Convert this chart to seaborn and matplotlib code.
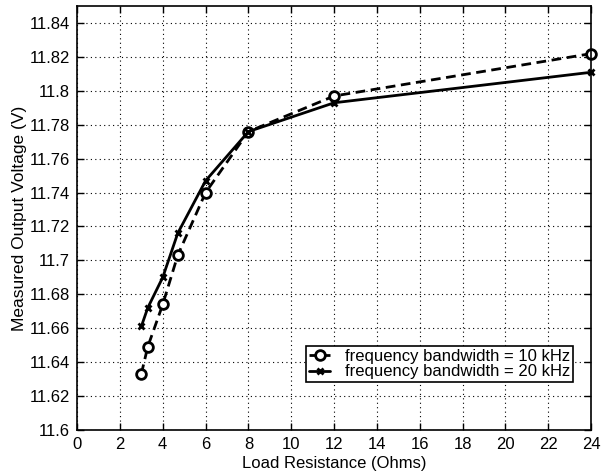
import numpy as np
import pandas as pd
import matplotlib
matplotlib.use('Agg')
import matplotlib.pyplot as plt
import seaborn as sns

# data
load_ohms = [3, 3.3, 4, 4.7, 6, 8, 12, 24]
v_10khz = [11.633, 11.649, 11.674, 11.703, 11.740, 11.776, 11.797, 11.822]
v_20khz = [11.661, 11.672, 11.690, 11.716, 11.747, 11.776, 11.793, 11.811]
series_names = ['frequency bandwidth = 10 kHz', 'frequency bandwidth = 20 kHz']
x_ticks = list(range(0, 25, 2))
y_ticks = [11.6, 11.62, 11.64, 11.66, 11.68, 11.7, 11.72, 11.74, 11.76, 11.78, 11.8, 11.82, 11.84]
y_tick_labels = ['11.6', '11.62', '11.64', '11.66', '11.68', '11.7', '11.72', '11.74',
                 '11.76', '11.78', '11.8', '11.82', '11.84']

df = pd.DataFrame({
    'Load': load_ohms * 2,
    'Voltage': v_10khz + v_20khz,
    'Series': [series_names[0]] * len(load_ohms) + [series_names[1]] * len(load_ohms),
})

sns.set_style('ticks')
plt.rcParams['font.family'] = ['Liberation Sans', 'DejaVu Sans']
plt.rcParams['text.color'] = 'black'
plt.rcParams['axes.labelcolor'] = 'black'

fig = plt.figure(figsize=(6.02, 4.75), dpi=100)
ax = fig.add_axes([0.128, 0.095, 0.854, 0.892])

sns.lineplot(data=df, x='Load', y='Voltage', style='Series', style_order=series_names,
             markers={series_names[0]: 'o', series_names[1]: 'X'},
             dashes={series_names[0]: (3.5, 2), series_names[1]: ''},
             color='black', linewidth=2, ax=ax)

# marker styling (open circles, bold crosses)
def style_line(ln):
    m = ln.get_marker()
    if m == 'o':
        ln.set_markersize(7)
        ln.set_markerfacecolor('white')
        ln.set_markeredgecolor('black')
        ln.set_markeredgewidth(2)
    elif m in ('X', 'x'):
        ln.set_marker('x')
        ln.set_markersize(5)
        ln.set_markeredgecolor('black')
        ln.set_markeredgewidth(2)

for ln in ax.lines:
    style_line(ln)
    ln.set_clip_on(False)

ax.set_xlim(0, 24)
ax.set_ylim(11.6, 11.85)
ax.set_xticks(x_ticks)
ax.set_yticks(y_ticks)
ax.set_yticklabels(y_tick_labels)
ax.grid(True, color='black', linestyle=(0, (1, 3)), linewidth=0.8)
ax.tick_params(direction='in', top=True, right=True, labelsize=12,
               length=5, width=1, colors='black', pad=5)
for s in ax.spines.values():
    s.set_color('black')
    s.set_linewidth(1.2)

ax.set_xlabel('Load Resistance (Ohms)', fontsize=12, labelpad=3)
ax.set_ylabel('Measured Output Voltage (V)', fontsize=12.5, labelpad=2)

handles, labels = ax.get_legend_handles_labels()
leg = ax.legend(handles, labels, loc='lower right', bbox_to_anchor=(0.965, 0.113),
                borderaxespad=0, fontsize=12, numpoints=1,
                frameon=True, fancybox=False, edgecolor='black', framealpha=1,
                handlelength=1.3, borderpad=0.15, labelspacing=0.05, handletextpad=0.9)
leg.get_frame().set_linewidth(1.2)
for h in leg.get_lines():
    style_line(h)
    h.set_color('black')

fig.savefig('out.png', dpi=100)
